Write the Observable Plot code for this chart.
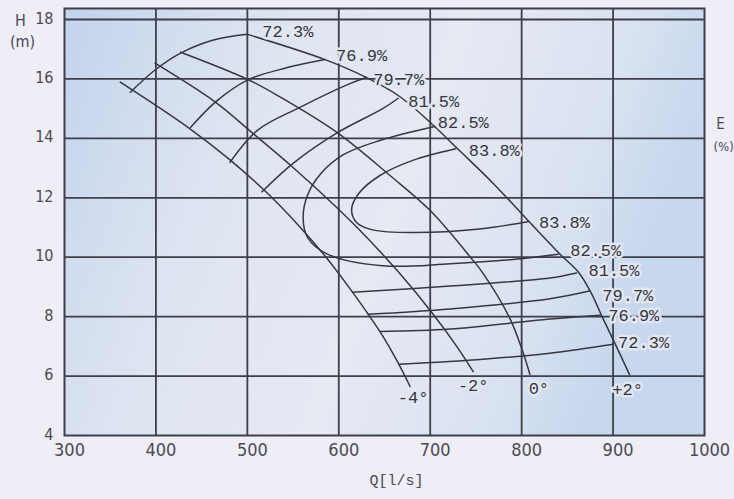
<!DOCTYPE html>
<html><head><meta charset="utf-8">
<script src="https://cdn.jsdelivr.net/npm/d3@7"></script>
<script src="https://cdn.jsdelivr.net/npm/@observablehq/plot@0.6"></script>
<style>
html,body{margin:0;padding:0;background:#efedf5;}
#chart{width:734px;height:499px;}
</style></head><body><div id="chart"></div>
<script>
// ---- data (Q in l/s, H in m) ----
const xTicks = [300, 400, 500, 600, 700, 800, 900, 1000];
const yTicks = [4, 6, 8, 10, 12, 14, 16, 18];
const gridQ = [400, 500, 600, 700, 800, 900];
const gridH = [6, 8, 10, 12, 14, 16, 18];

const bladeLabels = ["-4°", "-2°", "0°", "+2°"];
const bladeM4 = [[361,15.89],[435,14.37],[480,13.3],[522,12.15],[558,11.0],[590,9.85],[612,8.95],[634,8.0],[648,7.35],[663,6.55],[678,5.65]];
const bladeM2 = [[399,16.53],[465,15.22],[506,14.17],[550,13.02],[594,11.78],[627,10.78],[667,9.44],[703,8.09],[729,7.0],[747,6.15]];
const blade0  = [[427,16.9],[500,15.99],[536,15.39],[598,14.2],[656,12.75],[700,11.57],[744,10.0],[758,9.45],[787,7.95],[801,6.84],[809,6.06]];
const bladeP2 = [[500,17.5],[585,16.65],[630,16.05],[667,15.4],[703,14.45],[730,13.65],[770,12.45],[808,11.2],[842,10.1],[862,9.5],[876,8.8],[888,8.0],[902,7.1],[918,6.05]];

const effLabels = ["72.3%", "76.9%", "79.7%", "81.5%", "82.5%", "83.8%"];
const eff723Upper = [[372,15.55],[399,16.3],[427,16.87],[463,17.31],[500,17.5]];
const eff769Upper = [[438,14.37],[465,15.22],[500,15.96],[541,16.36],[585,16.65]];
const eff797Upper = [[481,13.19],[511,14.27],[558,15.05],[612,15.84],[630,16.05]];
const eff815Upper = [[516,12.2],[550,13.16],[599,14.2],[648,15.0],[665,15.35]];
const eff825Loop  = [[705,14.4],[645,13.93],[605,13.45],[580,12.8],[566,12.1],[561,11.33],[566,10.66],[587,10.11],[648,9.71],[722,9.78],[790,9.92],[840,10.1]];
const eff838Loop  = [[728,13.65],[681,13.26],[645,12.75],[622,12.15],[614,11.6],[620,11.15],[637,10.92],[680,10.83],[754,10.95],[808,11.2]];
const eff815Lower = [[615,8.82],[722,9.03],[831,9.3],[860,9.47]];
const eff797Lower = [[632,8.08],[722,8.26],[831,8.6],[874,8.86]];
const eff769Lower = [[645,7.5],[722,7.58],[831,7.92],[886,8.05]];
const eff723Lower = [[666,6.4],[758,6.57],[831,6.77],[900,7.07]];

// ---- styling ----
const INK = "#363741";
const GRID = "#3e3f4a";
const HALO = "#e2e6f1";
const LABEL_FONT = "'Liberation Mono','DejaVu Sans Mono',monospace";
const TICK_FONT = "'DejaVu Sans Condensed','Liberation Sans Narrow',sans-serif";
const TICK_INK = "#4a4a55";

const curves = [bladeM4, bladeM2, blade0, bladeP2,
  eff723Upper, eff769Upper, eff797Upper, eff815Upper, eff825Loop, eff838Loop,
  eff815Lower, eff797Lower, eff769Lower, eff723Lower];

const lineMarks = curves.map(c => Plot.line(c, {x: d => d[0], y: d => d[1], curve: "catmull-rom", stroke: INK, strokeWidth: 1.5}));

const first = c => [c[0]];
const last = c => [c[c.length - 1]];
function label(points, text, dx, dy, anchor = "start") {
  return Plot.text(points, {x: d => d[0], y: d => d[1], text: () => text, dx, dy,
    textAnchor: anchor, lineAnchor: "middle", fontSize: 17, fontFamily: LABEL_FONT,
    fill: INK, stroke: HALO, strokeWidth: 5, paintOrder: "stroke"});
}

const labelMarks = [
  label(last(eff723Upper), effLabels[0], 15, -3),
  label(last(eff769Upper), effLabels[1], 11, -4),
  label(last(eff797Upper), effLabels[2], 7, 2),
  label(last(eff815Upper), effLabels[3], 10, 3),
  label(first(eff825Loop), effLabels[4], 3, -4),
  label(first(eff838Loop), effLabels[5], 13, 2),
  label(last(eff838Loop), effLabels[5], 10, 1),
  label(last(eff825Loop), effLabels[4], 12, -4),
  label(last(eff815Lower), effLabels[3], 12, -2),
  label(last(eff797Lower), effLabels[2], 13, 4),
  label(last(eff769Lower), effLabels[1], 8, 0),
  label(last(eff723Lower), effLabels[0], 5, -2),
  label(last(bladeM4), bladeLabels[0], 3, 11, "middle"),
  label(last(bladeM2), bladeLabels[1], 0, 14, "middle"),
  label(last(blade0), bladeLabels[2], 9, 14, "middle"),
  label(last(bladeP2), bladeLabels[3], -2, 15, "middle")
];

function note(text, anchor, dx, dy, size, font = TICK_FONT, textAnchor = "middle") {
  return Plot.text([text], {frameAnchor: anchor, text: d => d, dx, dy, textAnchor, lineAnchor: "middle",
    fontSize: size, fontFamily: font, fill: TICK_INK});
}

const chart = Plot.plot({
  width: 734, height: 499,
  marginLeft: 64, marginRight: 30, marginTop: 8, marginBottom: 64,
  x: {domain: [300, 1000], axis: null},
  y: {domain: [4, 18.37], axis: null},
  style: {background: "transparent", overflow: "visible"},
  marks: [
    Plot.frame({fill: "url(#plotBg)", stroke: "none"}),
    Plot.ruleX(gridQ, {stroke: GRID, strokeWidth: 1.8}),
    Plot.ruleY(gridH, {stroke: GRID, strokeWidth: 1.8}),
    Plot.frame({stroke: GRID, strokeWidth: 2}),
    ...lineMarks,
    ...labelMarks,
    Plot.text(xTicks, {x: d => d, y: () => 4, text: d => String(d), dx: 5, dy: 15, lineAnchor: "middle",
      fontSize: 18, fontFamily: TICK_FONT, fill: TICK_INK}),
    Plot.text(yTicks, {x: () => 300, y: d => d, text: d => String(d), dx: -11, dy: -1, textAnchor: "end",
      lineAnchor: "middle", fontSize: 16, fontFamily: TICK_FONT, fill: TICK_INK}),
    note("H", "top-left", -44, 12, 16),
    note("(m)", "top-left", -42, 33, 16),
    note("E", "top-right", 16, 116, 15),
    note("(%)", "top-right", 9, 138, 13, TICK_FONT, "start"),
    note("Q[l/s]", "bottom", 12, 45, 15, LABEL_FONT)
  ]
});

const ns = "http://www.w3.org/2000/svg";
const defs = document.createElementNS(ns, "defs");
defs.innerHTML = `<linearGradient id="plotBg" x1="0" y1="0" x2="1" y2="0.25">
  <stop offset="0" stop-color="#c3d3ec"/>
  <stop offset="0.3" stop-color="#dde4f1"/>
  <stop offset="0.6" stop-color="#e7e9f3"/>
  <stop offset="0.85" stop-color="#d9e2f1"/>
  <stop offset="1" stop-color="#c6d7ee"/>
</linearGradient>`;
chart.insertBefore(defs, chart.firstChild);
document.getElementById("chart").appendChild(chart);
</script></body></html>
